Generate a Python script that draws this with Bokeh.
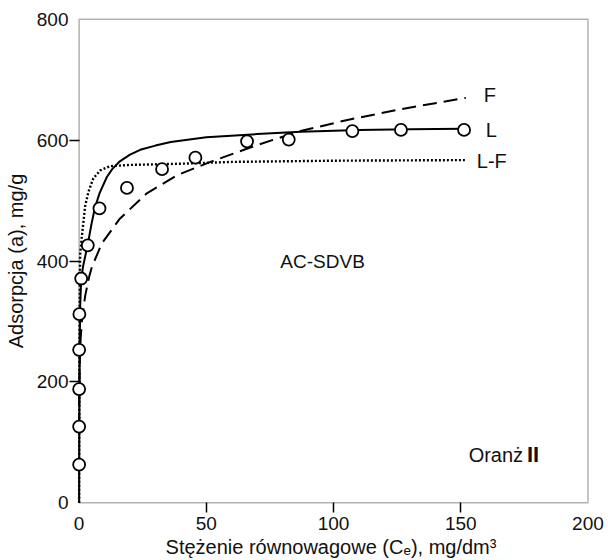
from bokeh.plotting import figure
from bokeh.models import (Range1d, Label, FixedTicker, BoxAnnotation, LinearAxis,
                          CustomLabelingPolicy)
from bokeh.embed import file_html
from bokeh.resources import INLINE

# ---- data ----
x_ticks = [0, 50, 100, 150, 200]
y_ticks = [0, 200, 400, 600, 800]

# measured points (circles)
pts_c = [0, 0, 0, 0, 0.1, 0.8, 3.4, 8, 18.8, 32.6, 45.7, 66, 82.4, 107.4, 126.5, 151.3]
pts_a = [63, 126, 188, 253, 312, 371, 426, 487, 521, 552, 571, 598, 601, 615, 617, 617]

# Langmuir (L) solid curve
L_c = [0, 0.05, 0.12, 0.25, 0.45, 0.8, 1.5, 2.5, 3.5, 4.8, 6.2, 8, 10.9, 13, 16, 20, 24, 30, 36, 50, 70, 87, 110, 130, 151]
L_a = [0, 90, 180, 270, 330, 368, 390, 410, 430, 460, 488, 512, 539, 552, 565, 576, 584, 591, 597, 605, 610, 614, 617, 618, 619]

# Freundlich (F) dashed curve
F_c = [0.005, 0.05, 0.2, 0.6, 1.2, 2.4, 4, 5, 8.9, 16, 26.6, 38.5, 51.6, 70, 87, 105, 126, 152]
F_a = [125, 180, 228, 272, 306, 343, 375, 390, 429, 470, 512, 542, 564, 592, 615, 633, 651, 670]

# Langmuir-Freundlich (L-F) dotted curve
LF_c = [0, 0.03, 0.08, 0.18, 0.4, 1.05, 2.4, 3.7, 5.6, 8.3, 12.2, 20, 40, 60, 100, 152]
LF_a = [0, 100, 200, 320, 410, 440, 492, 515, 537, 550, 557, 559, 561, 564, 566, 567]

FONT = "Liberation Sans"
INK = "#111111"

x0, x1 = x_ticks[0], x_ticks[-1]
y0, y1 = y_ticks[0], y_ticks[-1]

# small padding so the markers sitting on the axes are drawn whole
p = figure(width=608, height=560,
           x_range=Range1d(x0 - 3, x1 + 1), y_range=Range1d(y0 - 3, y1 + 3),
           output_backend="svg", toolbar_location=None,
           min_border_left=71, min_border_right=18,
           min_border_top=17, min_border_bottom=56)

p.grid.visible = False
p.outline_line_color = None
p.background_fill_color = "white"
p.border_fill_color = "white"

# a labeling policy that shows no labels (for the tick-only axes)
no_labels = CustomLabelingPolicy(code="""
try { indices.clear(); return indices; } catch (e) {}
try { for (const i of [...indices]) indices.unset(i); return indices; } catch (e) {}
return indices;
""")

# inner axes: tick marks only (interior ticks, as in the reference)
p.xaxis.ticker = FixedTicker(ticks=x_ticks[1:-1])
p.yaxis.ticker = FixedTicker(ticks=y_ticks[1:-1])
for ax in (p.xaxis[0], p.yaxis[0]):
    ax.axis_line_color = None
    ax.major_tick_line_width = 1.5
    ax.major_tick_line_color = "black"
    ax.minor_tick_line_color = None
    ax.major_label_policy = no_labels
    ax.major_label_text_font_size = "0px"
    ax.major_label_standoff = 0
p.xaxis.major_tick_out = 8
p.xaxis.major_tick_in = 2
p.yaxis.major_tick_out = 2
p.yaxis.major_tick_in = 8

# outer axes: tick labels and axis titles
common = dict(axis_line_color=None, major_tick_line_color=None,
              minor_tick_line_color=None, major_tick_out=0, major_tick_in=0,
              minor_tick_out=0, minor_tick_in=0,
              major_label_text_font=FONT, major_label_text_font_size="19px",
              major_label_text_color=INK,
              axis_label_text_font=FONT, axis_label_text_font_size="20px",
              axis_label_text_font_style="normal", axis_label_text_color=INK)
xlab = LinearAxis(ticker=FixedTicker(ticks=x_ticks), major_label_standoff=4,
                  axis_label="Stężenie równowagowe (Cₑ), mg/dm³",
                  axis_label_standoff=3, **common)
ylab = LinearAxis(ticker=FixedTicker(ticks=y_ticks), major_label_standoff=1,
                  axis_label="Adsorpcja (a), mg/g",
                  axis_label_standoff=7, **common)
p.add_layout(xlab, "below")
p.add_layout(ylab, "left")

# the axes box
p.add_layout(BoxAnnotation(left=x0, right=x1, bottom=y0, top=y1,
                           fill_color=None, line_color="black", line_width=1.5,
                           level="underlay"))

# curves
p.line(F_c, F_a, line_color="black", line_width=2, line_dash="14 7")
p.line(LF_c, LF_a, line_color="black", line_width=2.4, line_dash="2 2")
p.line(L_c, L_a, line_color="black", line_width=2)
p.scatter(pts_c, pts_a, marker="circle", size=12, fill_color="white",
          line_color="black", line_width=1.8)

def lab(x, y, t, size="20px", align="left", baseline="middle", style="normal"):
    p.add_layout(Label(x=x, y=y, text=t, text_font=FONT, text_font_size=size,
                       text_align=align, text_baseline=baseline,
                       text_font_style=style, text_color=INK))

# curve labels
lab(159, 674, "F")
lab(159.8, 616, "L")
lab(156.3, 565, "L-F")
lab(79.1, 400, "AC-SDVB", size="19px")
lab(153.1, 79, "Oranż")
lab(176.0, 79, "II", size="22px", style="bold")

open("out.html", "w").write(file_html(p, INLINE))
